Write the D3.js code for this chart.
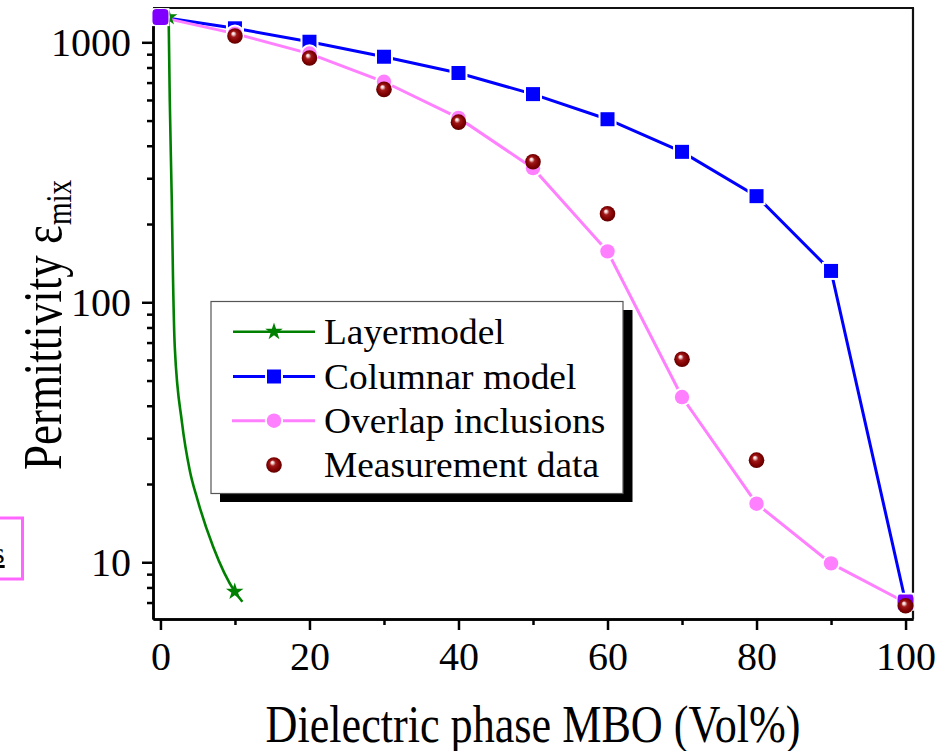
<!DOCTYPE html>
<html>
<head>
<meta charset="utf-8">
<script src="https://cdn.jsdelivr.net/npm/d3@7"></script>
<style>
  html, body { margin: 0; padding: 0; background: #fff; }
  svg { display: block; }
  text { font-family: "Liberation Serif", "Times New Roman", serif; fill: #000; }
</style>
</head>
<body>
<svg id="chart" width="947" height="751"></svg>
<script>
// ---------- data ----------
const layerX = [1.1, 1.25, 1.52, 1.69, 1.92, 2.9, 3.93, 4.97, 7.06, 9.97, 11.0];
const layerY = [1250, 600, 247, 122, 67.5, 34.3, 22.6, 17.4, 11.5, 7.71, 7.05];
const layerStarX = [1.1, 9.97];
const layerStarY = [1250, 7.71];

const volX = [0, 10, 20, 30, 40, 50, 60, 70, 80, 90, 100];
const columnarY = [1250, 1132, 1005, 880, 762, 632, 506, 379, 256, 132, 7.05];
const overlapY = [1250, 1080, 905, 705, 512, 328, 157, 43.2, 16.8, 9.9, 7.0];

const measX = [10, 20, 30, 40, 50, 60, 70, 80, 100];
const measY = [1057, 870, 659, 493, 347, 219, 60.4, 24.7, 6.8];

const xMajorTicks = [0, 20, 40, 60, 80, 100];
const xMinorTicks = [10, 30, 50, 70, 90];
const yMajorTicks = [10, 100, 1000];
const yMinorTicks = [7, 8, 9, 20, 30, 40, 50, 60, 70, 80, 90, 200, 300, 400, 500, 600, 700, 800, 900];

const legendLabels = ["Layermodel", "Columnar model", "Overlap inclusions", "Measurement data"];
const xTitle = "Dielectric phase MBO (Vol%)";

// ---------- layout ----------
const L = 153, R = 913, T = 8, B = 619;
const svg = d3.select("#chart");
const x = d3.scaleLinear().domain([-1, 101]).range([L, R]);
const y = d3.scaleLog().domain([6.05, 1355]).range([B, T]);

const GREEN = "#008000", BLUE = "#0000ff", PINK = "#ff80ff", PURPLE = "#8000ff";

// gradient for measurement balls
const defs = svg.append("defs");
const grad = defs.append("radialGradient").attr("id", "ball")
  .attr("cx", "50%").attr("cy", "50%").attr("r", "55%").attr("fx", "38%").attr("fy", "32%");
[["0%", "#ffffff"], ["14%", "#f2d0d0"], ["35%", "#a01818"], ["70%", "#800000"], ["100%", "#560000"]]
  .forEach(([o, c]) => grad.append("stop").attr("offset", o).attr("stop-color", c));

// partial pink box at the left edge (fragment of neighbouring figure)
svg.append("rect").attr("x", -10).attr("y", 518).attr("width", 32.5).attr("height", 61)
  .attr("fill", "none").attr("stroke", "#ff66ff").attr("stroke-width", 3);
svg.append("text").attr("x", -7).attr("y", 563).attr("font-size", 30)
  .style("text-decoration", "underline").text("s");

// ---------- axes ----------
function styleAxis(g) {
  g.selectAll("path.domain").attr("stroke", "#000").attr("stroke-width", 2.5);
  g.selectAll(".tick line").attr("stroke", "#000").attr("stroke-width", 2.5);
  g.selectAll(".tick text").attr("font-family", "Liberation Serif, serif").attr("font-size", 40).attr("fill", "#000");
}
const yAxisMinor = svg.append("g").attr("transform", `translate(${L},0)`)
  .call(d3.axisLeft(y).tickValues(yMinorTicks).tickSize(6).tickSizeOuter(0).tickFormat(""));
styleAxis(yAxisMinor);
const yAxis = svg.append("g").attr("transform", `translate(${L},0)`)
  .call(d3.axisLeft(y).tickValues(yMajorTicks).tickSize(11).tickSizeOuter(0).tickPadding(11).tickFormat(d3.format("d")));
styleAxis(yAxis);

const xAxisMinor = svg.append("g").attr("transform", `translate(0,${B})`)
  .call(d3.axisBottom(x).tickValues(xMinorTicks).tickSize(6).tickSizeOuter(0).tickFormat(""));
styleAxis(xAxisMinor);
const xAxis = svg.append("g").attr("transform", `translate(0,${B})`)
  .call(d3.axisBottom(x).tickValues(xMajorTicks).tickSize(11).tickSizeOuter(0).tickPadding(12).tickFormat(d3.format("d")));
styleAxis(xAxis);

// top and right frame
svg.append("line").attr("x1", L).attr("x2", R + 1).attr("y1", T).attr("y2", T).attr("stroke", "#111").attr("stroke-width", 2.2);
svg.append("line").attr("x1", R).attr("x2", R).attr("y1", T).attr("y2", B).attr("stroke", "#111").attr("stroke-width", 2.2);

// ---------- series ----------
const line = d3.line().x(d => x(d[0])).y(d => y(d[1]));

// layer model (smooth)
svg.append("path").datum(layerX.map((v, i) => [v, layerY[i]]))
  .attr("d", line.curve(d3.curveMonotoneX)).attr("fill", "none").attr("stroke", GREEN).attr("stroke-width", 2.6);
line.curve(d3.curveLinear);

// columnar
svg.append("path").datum(volX.map((v, i) => [v, columnarY[i]]))
  .attr("d", line).attr("fill", "none").attr("stroke", BLUE).attr("stroke-width", 3);
// overlap
svg.append("path").datum(volX.map((v, i) => [v, overlapY[i]]))
  .attr("d", line).attr("fill", "none").attr("stroke", PINK).attr("stroke-width", 3);

// markers
const star = d3.symbol().type(d3.symbolStar).size(95);
svg.append("g").selectAll("path").data(layerStarX.map((v, i) => [v, layerStarY[i]])).join("path")
  .attr("d", star).attr("transform", d => `translate(${x(d[0])},${y(d[1])})`).attr("fill", GREEN);

const SQ = 14;
svg.append("g").selectAll("rect").data(volX.map((v, i) => [v, columnarY[i]])).join("rect")
  .attr("x", d => x(d[0]) - SQ / 2).attr("y", d => y(d[1]) - SQ / 2).attr("width", SQ).attr("height", SQ)
  .attr("fill", BLUE).attr("stroke", "#fff").attr("stroke-width", 4).attr("paint-order", "stroke");

svg.append("g").selectAll("circle").data(volX.map((v, i) => [v, overlapY[i], columnarY[i]])).join("circle")
  .attr("cx", d => x(d[0])).attr("cy", d => y(d[1])).attr("r", 7.2)
  .attr("fill", PINK).attr("stroke", "#fff").attr("stroke-width", 4).attr("paint-order", "stroke");

// shared end points (columnar & overlap coincide) appear purple
svg.append("g").selectAll("rect").data(volX.map((v, i) => [v, overlapY[i], columnarY[i]]).filter(d => Math.abs(Math.log(d[1] / d[2])) < 0.02)).join("rect")
  .attr("x", d => x(d[0]) - 8).attr("y", d => y(d[1]) - 8).attr("width", 16).attr("height", 16).attr("rx", 4)
  .attr("fill", PURPLE);

svg.append("g").selectAll("circle").data(measX.map((v, i) => [v, measY[i]])).join("circle")
  .attr("cx", d => x(d[0])).attr("cy", d => y(d[1])).attr("r", 7.8).attr("fill", "url(#ball)");

// ---------- legend ----------
const lg = svg.append("g");
lg.append("rect").attr("x", 220).attr("y", 310).attr("width", 412.5).attr("height", 192).attr("fill", "#000");
lg.append("rect").attr("x", 211).attr("y", 301.5).attr("width", 412).attr("height", 192)
  .attr("fill", "#fff").attr("stroke", "#555").attr("stroke-width", 1.2);
const rowY = [331.7, 376.5, 420.7, 465];
const lx1 = 233, lx2 = 315, mx = 274;
// layer
lg.append("line").attr("x1", lx1).attr("x2", lx2).attr("y1", rowY[0]).attr("y2", rowY[0]).attr("stroke", GREEN).attr("stroke-width", 2.6);
lg.append("path").attr("d", star).attr("transform", `translate(${mx},${rowY[0]})`).attr("fill", GREEN);
// columnar
lg.append("line").attr("x1", lx1).attr("x2", lx2).attr("y1", rowY[1]).attr("y2", rowY[1]).attr("stroke", BLUE).attr("stroke-width", 3);
lg.append("rect").attr("x", mx - SQ / 2).attr("y", rowY[1] - SQ / 2).attr("width", SQ).attr("height", SQ)
  .attr("fill", BLUE).attr("stroke", "#fff").attr("stroke-width", 4).attr("paint-order", "stroke");
// overlap
lg.append("line").attr("x1", lx1 - 1).attr("x2", lx2).attr("y1", rowY[2]).attr("y2", rowY[2]).attr("stroke", PINK).attr("stroke-width", 3);
lg.append("circle").attr("cx", mx).attr("cy", rowY[2]).attr("r", 7.2)
  .attr("fill", PINK).attr("stroke", "#fff").attr("stroke-width", 4).attr("paint-order", "stroke");
// measurement
lg.append("circle").attr("cx", mx).attr("cy", rowY[3]).attr("r", 7.8).attr("fill", "url(#ball)");

legendLabels.forEach((t, i) => {
  lg.append("text").attr("transform", `translate(324,${rowY[i] + 12.3}) scale(1.1,1.05)`)
    .attr("font-size", 34).text(t);
});

// ---------- titles ----------
svg.append("text").attr("transform", `translate(533,742) scale(0.92,1.08)`)
  .attr("text-anchor", "middle").attr("font-size", 48).text(xTitle);

const yt = svg.append("text").attr("transform", "translate(61,325) rotate(-90) scale(1,1.2)")
  .attr("text-anchor", "middle").attr("font-size", 45);
yt.append("tspan").text("Permittivity ε");
yt.append("tspan").attr("font-size", 29).attr("dy", 8).text("mix");
</script>
</body>
</html>
